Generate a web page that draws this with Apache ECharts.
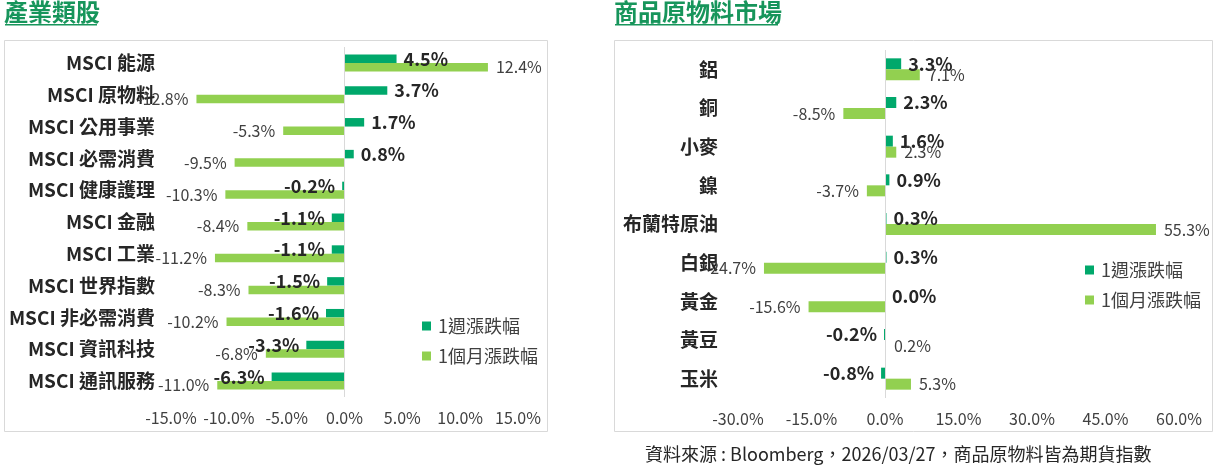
<!DOCTYPE html>
<html>
<head>
<meta charset="utf-8">
<script src="https://cdn.jsdelivr.net/npm/echarts@6/dist/echarts.min.js"></script>
<style>
html,body{margin:0;padding:0;background:#ffffff;}
#chart{width:1213px;height:468px;}
</style>
</head>
<body>
<div id="chart"></div>
<script>
// ---------- data ----------
const sectorCategories = ['MSCI 能源','MSCI 原物料','MSCI 公用事業','MSCI 必需消費','MSCI 健康護理','MSCI 金融','MSCI 工業','MSCI 世界指數','MSCI 非必需消費','MSCI 資訊科技','MSCI 通訊服務'];
const sectorWeekly  = [4.5, 3.7, 1.7, 0.8, -0.2, -1.1, -1.1, -1.5, -1.6, -3.3, -6.3];
const sectorMonthly = [12.4, -12.8, -5.3, -9.5, -10.3, -8.4, -11.2, -8.3, -10.2, -6.8, -11.0];
const sectorTicks = [-15, -10, -5, 0, 5, 10, 15];

const commodityCategories = ['鋁','銅','小麥','鎳','布蘭特原油','白銀','黃金','黃豆','玉米'];
const commodityWeekly  = [3.3, 2.3, 1.6, 0.9, 0.3, 0.3, 0.0, -0.2, -0.8];
const commodityMonthly = [7.1, -8.5, 2.3, -3.7, 55.3, -24.7, -15.6, 0.2, 5.3];
const commodityTicks = [-30, -15, 0, 15, 30, 45, 60];

const seriesNames = ['1週漲跌幅', '1個月漲跌幅'];
const titles = ['產業類股', '商品原物料市場'];
const sourceNote = '資料來源 : Bloomberg，2026/03/27，商品原物料皆為期貨指數';

// ---------- style ----------
const FONT = '"Noto Sans CJK TC", "Noto Sans", sans-serif';
const DARK = '#00A86B';
const LIGHT = '#92D050';
const TITLE_GREEN = '#17955B';

const pct = v => Number(v).toFixed(1) + '%';
const withSide = vals => vals.map(v => ({ value: v, label: { position: v < 0 ? 'left' : 'right' } }));

function zeroLine() {
  return {
    silent: true, symbol: 'none', animation: false,
    label: { show: false },
    lineStyle: { color: '#d9d9d9', width: 1, type: 'solid' },
    data: [{ xAxis: 0 }]
  };
}

function barSeries(name, idx, vals, color, barWidth, weekly, withZero) {
  const s = {
    type: 'bar', name: name,
    xAxisIndex: idx, yAxisIndex: idx,
    data: withSide(vals),
    barWidth: barWidth, barGap: '0%',
    itemStyle: { color: color },
    label: {
      show: true,
      formatter: p => pct(p.value),
      fontFamily: FONT,
      fontSize: weekly ? 18 : 16,
      fontWeight: weekly ? 'bold' : 'normal',
      color: weekly ? '#262626' : '#404040',
      distance: weekly ? 7 : 8
    }
  };
  if (withZero) s.markLine = zeroLine();
  return s;
}

function valueAxis(idx, ticks) {
  return {
    gridIndex: idx, type: 'value',
    min: ticks[0], max: ticks[ticks.length - 1], interval: ticks[1] - ticks[0],
    axisLine: { show: false }, axisTick: { show: false }, splitLine: { show: false },
    axisLabel: { formatter: v => pct(v), fontFamily: FONT, fontSize: 16, color: '#404040', margin: 13 }
  };
}

function catAxis(idx, cats, size, margin) {
  return {
    gridIndex: idx, type: 'category', data: cats, inverse: true,
    axisLine: { show: false, onZero: false }, axisTick: { show: false },
    axisLabel: { fontFamily: FONT, fontSize: size, fontWeight: 'bold', color: '#262626', margin: margin }
  };
}

function legendAt(left, top) {
  return {
    data: seriesNames, orient: 'vertical', left: left, top: top, padding: 0,
    icon: 'rect', itemWidth: 9, itemHeight: 9, itemGap: 12, selectedMode: false,
    textStyle: { fontFamily: FONT, fontSize: 18, color: '#404040', padding: [0, 0, 0, 2] }
  };
}

const chart = echarts.init(document.getElementById('chart'));
chart.setOption({
  animation: false,
  backgroundColor: '#ffffff',
  title: [
    { text: titles[0], left: 4, top: 0, padding: 0, textStyle: { fontFamily: FONT, fontSize: 24, fontWeight: 'bold', color: TITLE_GREEN } },
    { text: titles[1], left: 614, top: 0, padding: 0, textStyle: { fontFamily: FONT, fontSize: 24, fontWeight: 'bold', color: TITLE_GREEN } }
  ],
  grid: [
    { left: 171, top: 47, width: 347, height: 350 },
    { left: 738, top: 50, width: 441, height: 348 }
  ],
  xAxis: [valueAxis(0, sectorTicks), valueAxis(1, commodityTicks)],
  yAxis: [catAxis(0, sectorCategories, 19, 16), catAxis(1, commodityCategories, 19, 20)],
  legend: [legendAt(422, 317), legendAt(1085, 261)],
  series: [
    barSeries(seriesNames[0], 0, sectorWeekly, DARK, 8.5, true, true),
    barSeries(seriesNames[1], 0, sectorMonthly, LIGHT, 8.5, false, false),
    barSeries(seriesNames[0], 1, commodityWeekly, DARK, 11, true, true),
    barSeries(seriesNames[1], 1, commodityMonthly, LIGHT, 11, false, false)
  ],
  graphic: [
    { type: 'rect', shape: { x: 4.5, y: 40.5, width: 543, height: 391 }, style: { fill: 'none', stroke: '#d9d9d9', lineWidth: 1 }, silent: true, z: -1 },
    { type: 'rect', shape: { x: 614.5, y: 40.5, width: 598, height: 391 }, style: { fill: 'none', stroke: '#d9d9d9', lineWidth: 1 }, silent: true, z: -1 },
    { type: 'rect', shape: { x: 5, y: 24, width: 92, height: 1.5 }, style: { fill: TITLE_GREEN }, silent: true },
    { type: 'rect', shape: { x: 615, y: 24, width: 163, height: 1.5 }, style: { fill: TITLE_GREEN }, silent: true },
    { type: 'text', left: 645, top: 445, style: { text: sourceNote, fontFamily: FONT, fontSize: 18, fill: '#262626' }, silent: true }
  ]
});
</script>
</body>
</html>
